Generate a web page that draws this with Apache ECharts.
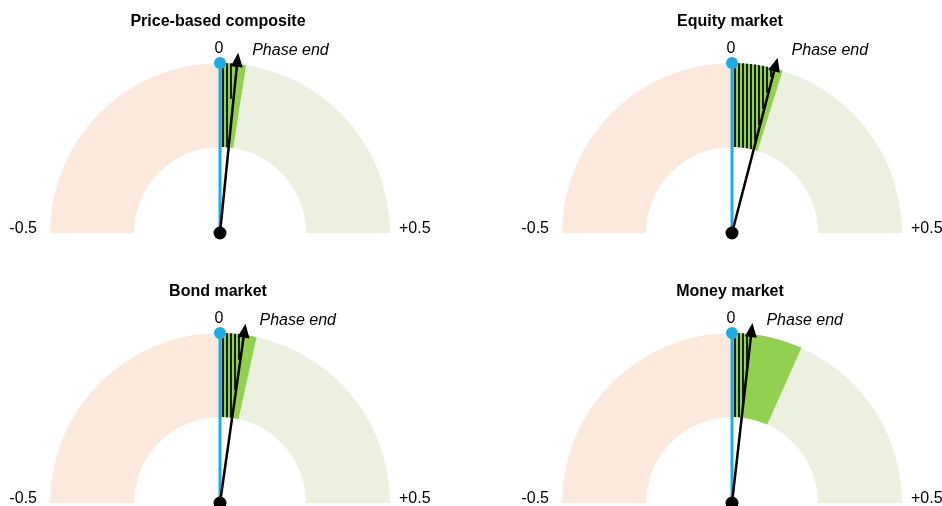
<!DOCTYPE html>
<html><head><meta charset="utf-8">
<script src="https://cdn.jsdelivr.net/npm/echarts@6/dist/echarts.min.js"></script>
<style>html,body{margin:0;padding:0;background:#fff}#c{width:942px;height:506px}</style>
</head><body><div id="c"></div>
<script>
// ---- data ----
const titles = ['Price-based composite', 'Equity market', 'Bond market', 'Money market'];
const greenEnd = [0.049, 0.096, 0.069, 0.134];   // bright green sector end
const hatchEnd = [0.026, 0.078, 0.042, 0.035];   // hatched sector end
const phaseEnd = [0.032, 0.081, 0.045, 0.036];   // arrow ("Phase end")
const scaleMin = -0.5, scaleMid = 0, scaleMax = 0.5;
const tickLabels = ['-0.5', '0', '+0.5'];
const pointerLabel = 'Phase end';

// ---- layout / style ----
const centers = [[220, 233], [732, 233], [220, 503], [732, 503]];
const OUTER = 170, INNER_FRAC = 0.506, TIP_FRAC = 1.065;
const FONT = "'Liberation Sans', Arial, sans-serif";
const COL = { orange: '#fce9dc', lightGreen: '#ebf0df', green: '#92d050', blue: '#1aaee6', black: '#000000' };

function makeRender(g) {
  return function (params, api) {
    const c = api.coord([0, scaleMid]);
    const cx = c[0], cy = c[1];
    const ang = v => {
      const p = api.coord([1, v]);
      let a = Math.atan2(p[1] - cy, p[0] - cx);
      while (a < Math.PI / 2 - 1e-6) a += 2 * Math.PI;
      return a;
    };
    const R = OUTER;
    const pi = api.coord([INNER_FRAC, scaleMid]);
    const r0 = Math.hypot(pi[0] - cx, pi[1] - cy);
    const aMin = ang(scaleMin), aMid = ang(scaleMid), aMax = ang(scaleMax);
    const aG = ang(greenEnd[g]), aH = ang(hatchEnd[g]);
    const ch = [];
    const sector = (a0, a1, fill) => ({ type: 'sector', shape: { cx, cy, r0, r: R, startAngle: a0, endAngle: a1, clockwise: true }, style: { fill } });
    ch.push(sector(aMin, aMid, COL.orange));
    ch.push(sector(aMid, aMax, COL.lightGreen));
    ch.push(sector(aMid, aG, COL.green));
    // vertical hatch lines inside the hatched sector
    const phi = aH - aMid;
    const dMax = R * Math.sin(phi);
    for (let d = 3; d < dMax; d += 4) {
      const yTop = cy - Math.sqrt(R * R - d * d);
      const inner = d < r0 ? Math.sqrt(r0 * r0 - d * d) : 0;
      const yBot = cy - Math.max(inner, d / Math.tan(phi));
      if (yBot > yTop) ch.push({ type: 'line', shape: { x1: cx + d, y1: yTop, x2: cx + d, y2: yBot }, style: { stroke: COL.black, lineWidth: 1.7 } });
    }
    // blue zero needle
    const z = api.coord([1, scaleMid]);
    ch.push({ type: 'line', shape: { x1: cx, y1: cy, x2: z[0], y2: z[1] }, style: { stroke: COL.blue, lineWidth: 3 } });
    // black arrow
    const tip = api.coord([TIP_FRAC, phaseEnd[g]]);
    const L = Math.hypot(tip[0] - cx, tip[1] - cy);
    const ux = (tip[0] - cx) / L, uy = (tip[1] - cy) / L;
    const hl = 14, hw = 6;
    const bx = tip[0] - ux * hl, by = tip[1] - uy * hl;
    ch.push({ type: 'line', shape: { x1: cx, y1: cy, x2: bx + ux * 2, y2: by + uy * 2 }, style: { stroke: COL.black, lineWidth: 2.5 } });
    ch.push({ type: 'polygon', shape: { points: [[tip[0], tip[1]], [bx - uy * hw, by + ux * hw], [bx + uy * hw, by - ux * hw]] }, style: { fill: COL.black } });
    // dots
    ch.push({ type: 'circle', shape: { cx: z[0], cy: z[1], r: 6 }, style: { fill: COL.blue } });
    ch.push({ type: 'circle', shape: { cx, cy, r: 6.5 }, style: { fill: COL.black } });
    // labels
    const pl = api.coord([1, scaleMin]), pr = api.coord([1, scaleMax]);
    const f = '16px ' + FONT;
    ch.push({ type: 'text', style: { text: tickLabels[0], x: pl[0] - 13, y: pl[1] - 4, align: 'right', verticalAlign: 'middle', font: f, fill: '#000' } });
    ch.push({ type: 'text', style: { text: tickLabels[2], x: pr[0] + 9, y: pr[1] - 4, align: 'left', verticalAlign: 'middle', font: f, fill: '#000' } });
    ch.push({ type: 'text', style: { text: tickLabels[1], x: z[0] - 1, y: z[1] - 14, align: 'center', verticalAlign: 'middle', font: f, fill: '#000' } });
    ch.push({ type: 'text', style: { text: pointerLabel, x: tip[0] + 14, y: z[1] - 12, align: 'left', verticalAlign: 'middle', font: 'italic ' + f, fill: '#000' } });
    return { type: 'group', children: ch };
  };
}

const chart = echarts.init(document.getElementById('c'), null, { renderer: 'canvas' });
const option = {
  animation: false,
  backgroundColor: '#ffffff',
  title: titles.map((t, i) => ({
    text: t, left: centers[i][0] - 2, top: centers[i][1] - 219, textAlign: 'center', padding: 0,
    textStyle: { fontSize: 16, fontWeight: 'bold', color: '#000', fontFamily: FONT }
  })),
  polar: centers.map(c => ({ center: c, radius: [0, OUTER] })),
  angleAxis: centers.map((_, i) => ({
    polarIndex: i, type: 'value', min: scaleMin, max: scaleMax + (scaleMax - scaleMin),
    startAngle: 180, clockwise: true, show: false
  })),
  radiusAxis: centers.map((_, i) => ({ polarIndex: i, type: 'value', min: 0, max: 1, show: false })),
  series: centers.map((_, i) => ({
    type: 'custom', coordinateSystem: 'polar', polarIndex: i, silent: true, clip: false,
    data: [[0, 0]], renderItem: makeRender(i)
  }))
};
chart.setOption(option);
</script>
</body></html>
